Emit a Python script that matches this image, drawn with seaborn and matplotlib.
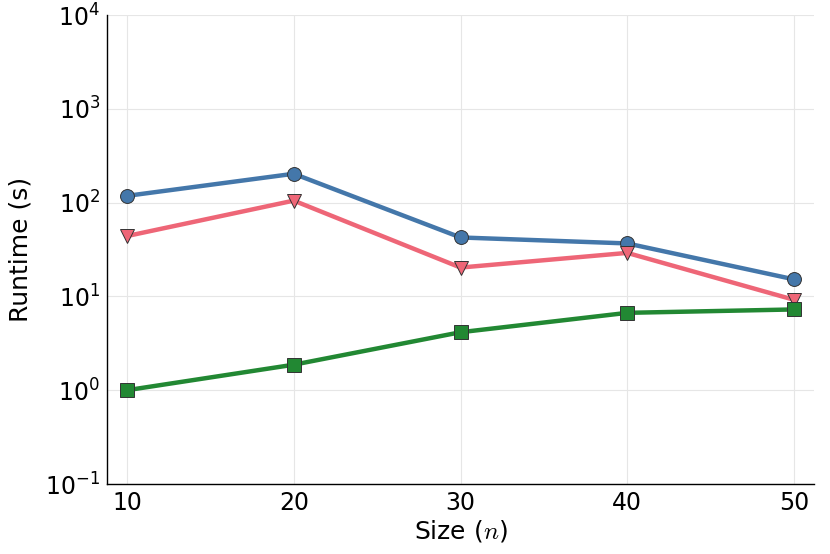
import numpy as np
import pandas as pd
import seaborn as sns
import matplotlib
matplotlib.use("Agg")
import matplotlib.pyplot as plt
from matplotlib.ticker import LogLocator, NullLocator

# values
sizes = [10, 20, 30, 40, 50]
runtime_a = [118, 203, 42.5, 36.7, 15.2]   # blue circles
runtime_b = [44, 105, 20.3, 29.1, 9.2]     # pink triangles
runtime_c = [1.0, 1.87, 4.15, 6.68, 7.26]  # green squares
series_names = ["a", "b", "c"]
colors = ["#4477AA", "#EE6677", "#228833"]
markers = ["o", "v", "s"]

df = pd.DataFrame({
    "size": sizes * 3,
    "runtime": runtime_a + runtime_b + runtime_c,
    "series": np.repeat(series_names, len(sizes)),
})

sns.set_style("white")
plt.rcParams["font.family"] = ["DejaVu Sans"]
plt.rcParams["mathtext.fontset"] = "cm"

fig = plt.figure(figsize=(8.3, 5.54), dpi=100)
ax = fig.add_axes([107 / 830, 1 - 484 / 554, (814 - 107) / 830, (484 - 15) / 554])

for name, col, mk in zip(series_names, colors, markers):
    sub = df[df["series"] == name]
    sns.lineplot(data=sub, x="size", y="runtime", ax=ax, color=col, lw=3.2,
                 marker=mk, markersize=10 if mk != "s" else 9.5,
                 markeredgecolor="#333333", markeredgewidth=0.7, legend=False)

ax.set_yscale("log")
ax.set_ylim(0.1, 1e4)
ax.set_xlim(8.8, 51.2)
ax.set_xticks(sizes)
ax.yaxis.set_major_locator(LogLocator(base=10, numticks=10))
ax.yaxis.set_minor_locator(NullLocator())
ax.grid(True, color="#e6e6e6", lw=0.8)
ax.set_axisbelow(True)

for s in ["top", "right"]:
    ax.spines[s].set_visible(False)
for s in ["left", "bottom"]:
    ax.spines[s].set_color("black")
    ax.spines[s].set_linewidth(1.0)

ax.tick_params(axis="both", direction="in", length=5, width=0.8,
               labelsize=17, color="black", labelcolor="black", pad=5)
ax.set_xlabel("Size ($n$)", fontsize=18, labelpad=2, color="black")
ax.set_ylabel("Runtime (s)", fontsize=18, labelpad=9, color="black")

fig.savefig("out.png", dpi=100)
